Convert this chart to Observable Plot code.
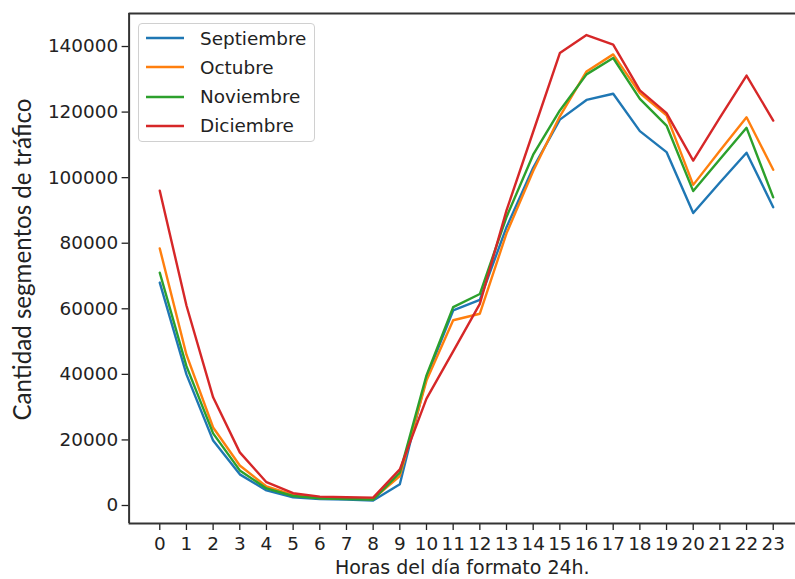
<!DOCTYPE html>
<html>
<head>
<meta charset="utf-8">
<script src="https://cdn.jsdelivr.net/npm/d3@7"></script>
<script src="https://cdn.jsdelivr.net/npm/@observablehq/plot@0.6"></script>
<style>
  html, body { margin: 0; padding: 0; background: #fff; }
  #wrap { position: relative; width: 795px; height: 579px; overflow: hidden; font-family: "DejaVu Sans", sans-serif; }
  #legend { position: absolute; left: 138px; top: 23px; width: 177px; height: 119px; border: 1px solid #d0d0d0; border-radius: 4px; background: rgba(255,255,255,0.85); box-sizing: border-box; }
  .row { position: absolute; left: 0; height: 20px; display: flex; align-items: center; }
  .row svg { margin-left: 7px; }
  .row span { margin-left: 16px; font-size: 18.4px; color: #222; white-space: nowrap; }
</style>
</head>
<body>
<div id="wrap"></div>
<script>
const hours = [0,1,2,3,4,5,6,7,8,9,10,11,12,13,14,15,16,17,18,19,20,21,22,23];
const months = ["Septiembre", "Octubre", "Noviembre", "Diciembre"];
const colors = ["#1f77b4", "#ff7f0e", "#2ca02c", "#d62728"];
const yTicks = [0, 20000, 40000, 60000, 80000, 100000, 120000, 140000];

const septiembre = [68000, 40000, 19800, 9500, 4600, 2500, 2000, 1800, 1500, 6500, 39100, 59500, 62700, 84900, 103000, 117700, 123700, 125600, 114200, 107800, 89200, 98500, 107600, 91000];
const octubre    = [78400, 46000, 23800, 12200, 5800, 3200, 2300, 2100, 2000, 9000, 38100, 56500, 58500, 83000, 102000, 118700, 132400, 137600, 125800, 119000, 97800, 108200, 118400, 102400];
const noviembre  = [71000, 42500, 22000, 10700, 5200, 2900, 2200, 2000, 1800, 10000, 39700, 60500, 64500, 88000, 107000, 120500, 131500, 136500, 124000, 115900, 95900, 105600, 115200, 94000];
const diciembre  = [96000, 61000, 33000, 16200, 7100, 3750, 2700, 2500, 2400, 11000, 32600, 47000, 61500, 90000, 114000, 138000, 143500, 140600, 126600, 119700, 105200, 118300, 131150, 117400];

const series = [septiembre, octubre, noviembre, diciembre];
const rows = [];
series.forEach((vals, i) => vals.forEach((v, h) => rows.push({mes: months[i], hora: hours[h], valor: v})));

const xDom = [-1.15, 24.15];
const yDom = [-5490, 150070];
const font = "DejaVu Sans, sans-serif";
const fs = 18.4;

const chart = Plot.plot({
  width: 795,
  height: 579,
  marginLeft: 128.6,
  marginRight: 0,
  marginTop: 13,
  marginBottom: 56,
  style: {fontFamily: font, fontSize: fs + "px", color: "#222", background: "white", overflow: "visible"},
  x: {domain: xDom, range: [128.6, 803.4]},
  y: {domain: yDom},
  color: {domain: months, range: colors},
  marks: [
    Plot.axisY({ticks: yTicks, tickFormat: d => String(d), tickSize: 7, tickPadding: 4, label: null, stroke: "#222", strokeWidth: 1.3, fontSize: fs}),
    Plot.axisX({ticks: hours, tickFormat: d => String(d), tickSize: 7, tickPadding: 6, label: null, stroke: "#222", strokeWidth: 1.3, fontSize: fs}),
    Plot.line(rows, {x: "hora", y: "valor", z: "mes", stroke: "mes", strokeWidth: 2.4, strokeLinejoin: "round"}),
    Plot.ruleY([yDom[0]], {stroke: "#333", strokeWidth: 2}),
    Plot.ruleY([yDom[1]], {stroke: "#333", strokeWidth: 2}),
    Plot.ruleX([xDom[0]], {stroke: "#333", strokeWidth: 2}),
    Plot.text(["Horas del día formato 24h."], {frameAnchor: "bottom", dy: 50, fontSize: 19, fill: "#222"}),
    Plot.text(["Cantidad segmentos de tráfico"], {frameAnchor: "left", dx: -106, dy: -9, rotate: -90, textAnchor: "middle", fontSize: 22, fontFamily: "Lato, sans-serif", fill: "#222", className: "ylab"})
  ]
});

const wrap = document.getElementById("wrap");
wrap.appendChild(chart);

// fit the y label length to the reference (~322px)
const yl = chart.querySelector(".ylab text");
if (yl) {
  const len = yl.getComputedTextLength();
  if (len > 0) yl.setAttribute("font-size", (22 * 322 / len).toFixed(2));
}

const legend = document.createElement("div");
legend.id = "legend";
months.forEach((m, i) => {
  const r = document.createElement("div");
  r.className = "row";
  r.style.top = (4 + i * 29.3) + "px";
  r.innerHTML = `<svg width="38" height="4"><line x1="0" x2="38" y1="2" y2="2" stroke="${colors[i]}" stroke-width="2.4"/></svg><span>${m}</span>`;
  legend.appendChild(r);
});
wrap.appendChild(legend);
</script>
</body>
</html>
